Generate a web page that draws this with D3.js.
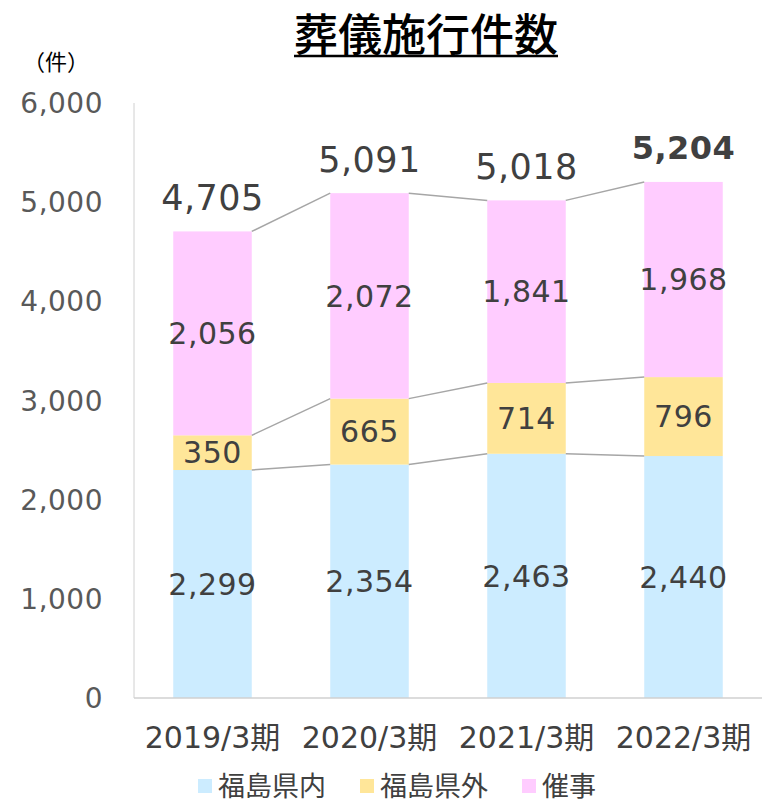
<!DOCTYPE html>
<html>
<head>
<meta charset="utf-8">
<script src="https://cdn.jsdelivr.net/npm/d3@7"></script>
<style>
  body { margin: 0; background: #fff; }
  svg { font-family: "DejaVu Sans", "Noto Sans CJK JP", sans-serif; }
</style>
</head>
<body>
<div id="chart"></div>
<script>
const categories = ["2019/3期", "2020/3期", "2021/3期", "2022/3期"];
const seriesNames = ["福島県内", "福島県外", "催事"];
const inPref = [2299, 2354, 2463, 2440];
const outPref = [350, 665, 714, 796];
const events = [2056, 2072, 1841, 1968];
const totals = [4705, 5091, 5018, 5204];
const yTicks = [0, 1000, 2000, 3000, 4000, 5000, 6000];
const colors = ["#CCECFF", "#FFE699", "#FFCCFF"];

const width = 772, height = 805;
const svg = d3.select("#chart").append("svg")
    .attr("width", width).attr("height", height);

const x = d3.scaleBand().domain(categories).range([134, 762]).paddingInner(0.5).paddingOuter(0.25);
const y = d3.scaleLinear().domain([0, 6000]).range([698, 103]);
const fmt = d3.format(",");

const rows = categories.map((c, i) => ({ cat: c, "福島県内": inPref[i], "福島県外": outPref[i], "催事": events[i] }));
const stacked = d3.stack().keys(seriesNames)(rows);

// title
const title = svg.append("text").attr("x", 426).attr("y", 51)
    .attr("text-anchor", "middle").attr("font-size", 44).attr("font-weight", 500)
    .attr("font-family", "Noto Sans CJK JP")
    .attr("fill", "#000").text("葬儀施行件数");
const tb = title.node().getBBox();
svg.append("line").attr("x1", tb.x).attr("x2", tb.x + tb.width)
    .attr("y1", 56).attr("y2", 56).attr("stroke", "#000").attr("stroke-width", 2.5);

svg.append("text").attr("x", 56).attr("y", 70).attr("text-anchor", "middle")
    .attr("font-family", "Noto Sans CJK JP")
    .attr("font-size", 22).attr("fill", "#000").text("（件）");

// axes
svg.append("line").attr("x1", 134).attr("x2", 134).attr("y1", y(6000)).attr("y2", y(0))
    .attr("stroke", "#d0d0d0").attr("stroke-width", 1);

svg.append("g").selectAll("text").data(yTicks).join("text")
    .attr("x", 103).attr("y", d => y(d)).attr("dy", "0.36em")
    .attr("text-anchor", "end").attr("font-size", 28).attr("fill", "#595959")
    .attr("letter-spacing", 0.5)
    .text(d => fmt(d));

// bars
svg.append("g").selectAll("g").data(stacked).join("g")
    .attr("fill", (d, i) => colors[i])
    .selectAll("rect").data(d => d).join("rect")
    .attr("x", d => x(d.data.cat)).attr("width", x.bandwidth())
    .attr("y", d => y(d[1])).attr("height", d => y(d[0]) - y(d[1]));

// connector lines
const conn = svg.append("g").attr("stroke", "#a6a6a6").attr("stroke-width", 1.5);
stacked.forEach(s => {
    for (let i = 0; i < categories.length - 1; i++) {
        conn.append("line")
            .attr("x1", x(categories[i]) + x.bandwidth()).attr("y1", y(s[i][1]))
            .attr("x2", x(categories[i + 1])).attr("y2", y(s[i + 1][1]));
    }
});

svg.append("line").attr("x1", 134).attr("x2", 762).attr("y1", y(0)).attr("y2", y(0))
    .attr("stroke", "#d0d0d0").attr("stroke-width", 1.5);

// segment labels
svg.append("g").selectAll("g").data(stacked).join("g")
    .selectAll("text").data(d => d).join("text")
    .attr("x", d => x(d.data.cat) + x.bandwidth() / 2)
    .attr("y", d => y((d[0] + d[1]) / 2)).attr("dy", "0.36em")
    .attr("text-anchor", "middle").attr("font-size", 30).attr("fill", "#404040")
    .attr("letter-spacing", 0.5)
    .text(d => fmt(d[1] - d[0]));

// totals
svg.append("g").selectAll("text").data(totals).join("text")
    .attr("x", (d, i) => x(categories[i]) + x.bandwidth() / 2)
    .attr("y", d => y(d) - 34).attr("dy", "0.36em")
    .attr("text-anchor", "middle")
    .attr("font-size", (d, i) => i === totals.length - 1 ? 32 : 35)
    .attr("font-weight", (d, i) => i === totals.length - 1 ? "bold" : "normal")
    .attr("letter-spacing", 0.5)
    .attr("fill", "#404040")
    .text(d => fmt(d));

// category labels
svg.append("g").selectAll("text").data(categories).join("text")
    .attr("x", d => x(d) + x.bandwidth() / 2).attr("y", 737).attr("dy", "0.36em")
    .attr("text-anchor", "middle").attr("font-size", 30).attr("fill", "#404040")
    .text(d => d);

// legend
const legendX = [198, 360, 522];
const lg = svg.append("g").selectAll("g").data(seriesNames).join("g")
    .attr("transform", (d, i) => `translate(${legendX[i]},786)`);
lg.append("rect").attr("x", 0).attr("y", -7).attr("width", 14).attr("height", 14)
    .attr("fill", (d, i) => colors[i]);
lg.append("text").attr("x", 20).attr("dy", "0.36em").attr("font-size", 27)
    .attr("font-family", "Noto Sans CJK JP")
    .attr("fill", "#404040").text(d => d);
</script>
</body>
</html>
